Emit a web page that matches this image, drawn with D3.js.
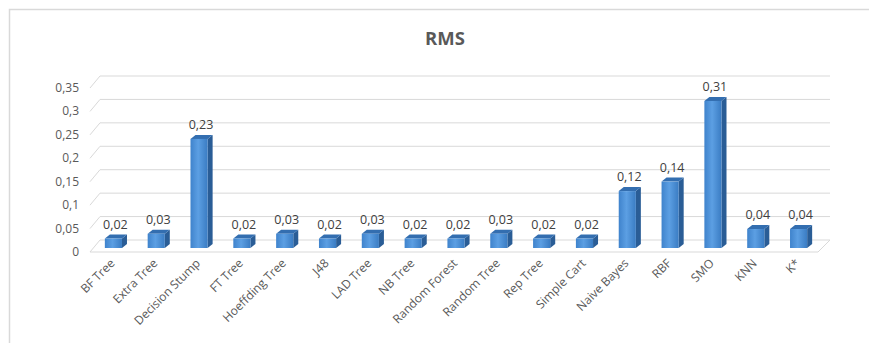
<!DOCTYPE html>
<html>
<head>
<meta charset="utf-8">
<script src="https://cdn.jsdelivr.net/npm/d3@7"></script>
<style>
  body { margin: 0; background: #fff; }
  text { font-family: "Open Sans", "Noto Sans", sans-serif; }
</style>
</head>
<body>
<div id="chartArea"></div>
<script>
var categories = ['BF Tree', 'Extra Tree', 'Decision  Stump', 'FT Tree', 'Hoeffding Tree', 'J48',
                  'LAD Tree', 'NB Tree', 'Random Forest', 'Random  Tree', 'Rep Tree', 'Simple Cart',
                  'Naive Bayes', 'RBF', 'SMO', 'KNN', 'K*'];
var rmsValues = [0.02, 0.03, 0.23, 0.02, 0.03, 0.02, 0.03, 0.02, 0.02, 0.03, 0.02, 0.02,
                 0.12, 0.14, 0.31, 0.04, 0.04];
var tickValues = [0, 0.05, 0.1, 0.15, 0.2, 0.25, 0.3, 0.35];
var tickLabels = ['0', '0,05', '0,1', '0,15', '0,2', '0,25', '0,3', '0,35'];

var width = 869, height = 343;
var svg = d3.select('#chartArea').append('svg')
    .attr('width', width)
    .attr('height', height);

// chart area border (top + left visible)
svg.append('path')
    .attr('d', 'M9.5,343 V9.5 H869')
    .attr('fill', 'none')
    .attr('stroke', '#d9d9d9')
    .attr('stroke-width', 1.5);

svg.append('text')
    .attr('x', 445).attr('y', 45)
    .attr('text-anchor', 'middle')
    .style('font-size', '18.5px')
    .style('font-weight', 'bold')
    .attr('fill', '#595959')
    .text('RMS');

// wall scale (back), front edge offset for the side wall
var yWall = d3.scaleLinear().domain([0, 0.35]).range([240, 76]);
var yBar = d3.scaleLinear().domain([0, 0.35]).range([248, 82]);
var xscale = d3.scaleBand().domain(categories).range([92, 820]).paddingInner(0.6).paddingOuter(0.3);
var wallLeft = 100, wallRight = 830, fdx = -10, fdy = 12;

var grid = svg.append('g');
tickValues.forEach(function(v, i) {
    var y = yWall(v);
    grid.append('path')
        .attr('d', 'M' + (wallLeft + fdx) + ',' + (y + fdy) + ' L' + wallLeft + ',' + y + ' H' + wallRight)
        .attr('fill', 'none')
        .attr('stroke', '#d9d9d9')
        .attr('stroke-width', 1);
    svg.append('text')
        .attr('x', 79).attr('y', y + fdy + 4)
        .attr('text-anchor', 'end')
        .style('font-size', '12px')
        .attr('fill', '#595959')
        .text(tickLabels[i]);
});
// floor front edge
grid.append('path')
    .attr('d', 'M' + (wallLeft + fdx) + ',' + (yWall(0) + fdy) + ' H' + (wallRight - 12) + ' L' + wallRight + ',' + yWall(0))
    .attr('fill', 'none')
    .attr('stroke', '#d9d9d9');

var defs = svg.append('defs');
var grad = defs.append('linearGradient').attr('id', 'front').attr('x1', 0).attr('x2', 1);
grad.append('stop').attr('offset', '0%').attr('stop-color', '#3f83cc');
grad.append('stop').attr('offset', '45%').attr('stop-color', '#5c9fe3');
grad.append('stop').attr('offset', '100%').attr('stop-color', '#3a7cc3');

var bw = xscale.bandwidth(), dx = 5, dy = 4;
var bars = svg.append('g').selectAll('g').data(rmsValues).enter().append('g');
bars.append('path')
    .attr('d', function(d, i) {
        var x1 = xscale(categories[i]) + bw, yt = yBar(d), yb = yBar(0);
        return 'M' + x1 + ',' + yt + ' L' + (x1 + dx) + ',' + (yt - dy) + ' V' + (yb - dy) + ' L' + x1 + ',' + yb + 'Z';
    })
    .attr('fill', '#2a5d96');
bars.append('path')
    .attr('d', function(d, i) {
        var x0 = xscale(categories[i]), yt = yBar(d);
        return 'M' + x0 + ',' + yt + ' L' + (x0 + dx) + ',' + (yt - dy) + ' H' + (x0 + bw + dx) + ' L' + (x0 + bw) + ',' + yt + 'Z';
    })
    .attr('fill', '#336eb0');
bars.append('rect')
    .attr('x', function(d, i) { return xscale(categories[i]); })
    .attr('y', function(d) { return yBar(d); })
    .attr('width', bw)
    .attr('height', function(d) { return yBar(0) - yBar(d); })
    .attr('fill', 'url(#front)');
bars.append('text')
    .attr('x', function(d, i) { return xscale(categories[i]) + bw / 2 + 2; })
    .attr('y', function(d) { return yBar(d) - 10; })
    .attr('text-anchor', 'middle')
    .style('font-size', '12.5px')
    .attr('fill', '#404040')
    .text(function(d) { return String(d).replace('.', ','); });

svg.append('g').selectAll('text').data(categories).enter().append('text')
    .attr('transform', function(d) {
        return 'translate(' + (xscale(d) + bw / 2 + 2) + ',264) rotate(-45)';
    })
    .attr('text-anchor', 'end')
    .style('font-size', '12px')
    .attr('fill', '#595959')
    .text(function(d) { return d; });
</script>
</body>
</html>
